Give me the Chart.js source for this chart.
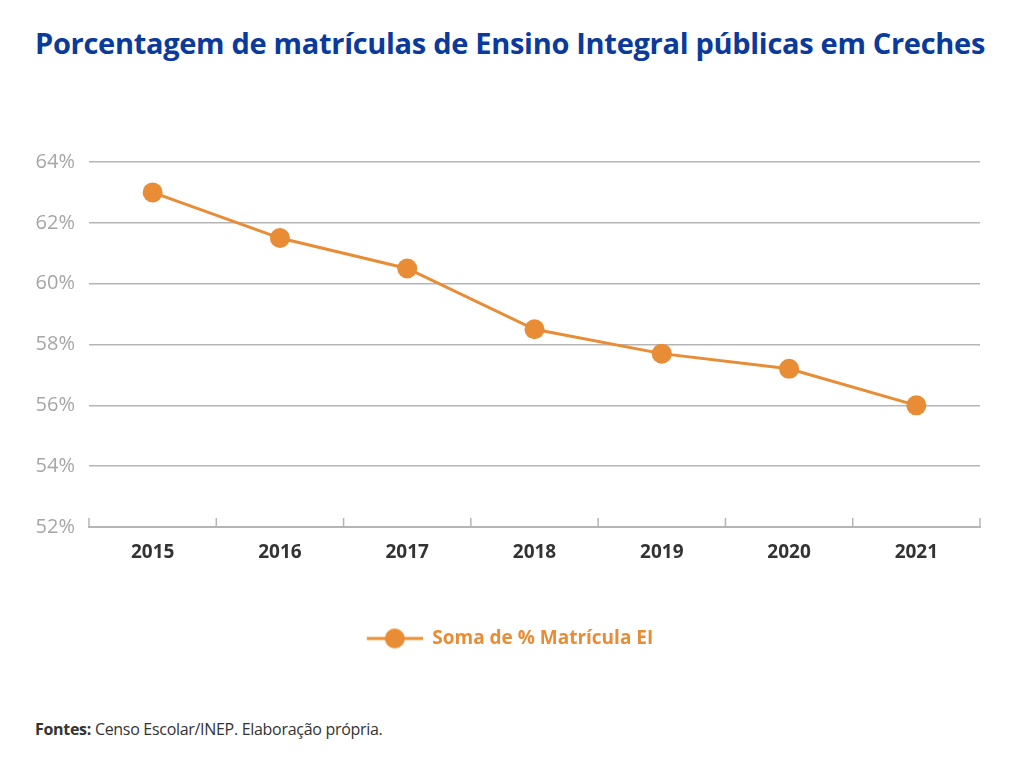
<!DOCTYPE html>
<html lang="pt">
<head>
    <meta charset="UTF-8">
    <title>Porcentagem de matrículas de Ensino Integral públicas em Creches</title>
    <script src="https://cdn.jsdelivr.net/npm/chart.js@4.4.2/dist/chart.umd.min.js"></script>
    <style>
        html, body { margin: 0; padding: 0; background: #fff; }
        body { width: 1024px; height: 770px; position: relative; overflow: hidden; font-family: 'Open Sans', sans-serif; }
        #title {
            position: absolute; left: 35px; top: 23px; margin: 0;
            font-size: 29px; font-weight: 700; color: #0a3a9c; letter-spacing: -0.3px; white-space: nowrap;
        }
        #chartBox { position: absolute; left: 0; top: 130px; width: 1024px; height: 528px; }
        #source {
            position: absolute; left: 35px; top: 718px; margin: 0;
            font-size: 16px; color: #333; letter-spacing: -0.3px;
        }
    </style>
</head>
<body>
    <h1 id="title">Porcentagem de matrículas de Ensino Integral públicas em Creches</h1>
    <div id="chartBox"><canvas id="lineChart"></canvas></div>
    <p id="source"><b>Fontes:</b> Censo Escolar/INEP. Elaboração própria.</p>

    <script>
        // --- Data ---
        const years = ['2015', '2016', '2017', '2018', '2019', '2020', '2021'];
        const matriculaEI = [63.0, 61.5, 60.5, 58.5, 57.7, 57.2, 56.0];
        const seriesLabel = 'Soma de % Matrícula EI';

        const orange = '#e88c35';
        const gridGray = '#b5b5b5';

        // legend marker: short line with a dot in the middle
        // (transparent space on the left nudges the legend item to the right)
        const marker = document.createElement('canvas');
        marker.width = 96; marker.height = 22;
        const mctx = marker.getContext('2d');
        mctx.strokeStyle = orange; mctx.lineWidth = 3;
        mctx.beginPath(); mctx.moveTo(40, 11); mctx.lineTo(96, 11); mctx.stroke();
        mctx.fillStyle = orange;
        mctx.beginPath(); mctx.arc(68, 11, 10, 0, Math.PI * 2); mctx.fill();

        // upward tick marks on the x axis, between the categories
        const upTicks = {
            id: 'upTicks',
            afterDraw(chart) {
                const x = chart.scales.x;
                const bottom = chart.chartArea.bottom;
                const ctx = chart.ctx;
                ctx.save();
                ctx.strokeStyle = gridGray; ctx.lineWidth = 1.5;
                for (let i = 0; i <= years.length; i++) {
                    const px = x.getPixelForValue(i - 0.5);
                    ctx.beginPath(); ctx.moveTo(px, bottom); ctx.lineTo(px, bottom - 9); ctx.stroke();
                }
                ctx.restore();
            }
        };

        new Chart(document.getElementById('lineChart'), {
            type: 'line',
            data: {
                labels: years,
                datasets: [{
                    label: seriesLabel,
                    data: matriculaEI,
                    borderColor: orange,
                    backgroundColor: orange,
                    borderWidth: 3,
                    pointRadius: 10,
                    pointHoverRadius: 10,
                    pointBackgroundColor: orange,
                    pointBorderWidth: 0,
                    tension: 0
                }]
            },
            options: {
                responsive: true,
                maintainAspectRatio: false,
                animation: false,
                layout: { padding: { top: 32, right: 44, left: 0, bottom: 0 } },
                scales: {
                    x: {
                        offset: true,
                        grid: { display: false },
                        border: { display: true, color: gridGray, width: 2 },
                        ticks: { color: '#333', padding: 6, font: { family: 'Open Sans', size: 19, weight: '700' } },
                        afterFit(scale) { scale.height = 50; }
                    },
                    y: {
                        min: 52, max: 64,
                        ticks: {
                            stepSize: 2, color: '#a6a6a6', padding: 14,
                            font: { family: 'Open Sans', size: 20 },
                            callback: v => v + '%'
                        },
                        grid: { color: gridGray, lineWidth: 1.5, drawTicks: false },
                        border: { display: false },
                        afterFit(scale) { scale.width = 89; }
                    }
                },
                plugins: {
                    title: { display: false },
                    tooltip: { enabled: false },
                    legend: {
                        position: 'bottom',
                        labels: {
                            usePointStyle: true,
                            pointStyleWidth: 96,
                            boxHeight: 22,
                            padding: 52,
                            color: orange,
                            font: { family: 'Open Sans', size: 19, weight: '700' },
                            generateLabels(chart) {
                                return chart.data.datasets.map((ds, i) => ({
                                    text: ds.label,
                                    fontColor: orange,
                                    pointStyle: marker,
                                    strokeStyle: orange,
                                    fillStyle: orange,
                                    lineWidth: 0,
                                    datasetIndex: i
                                }));
                            }
                        }
                    }
                }
            },
            plugins: [upTicks]
        });
    </script>
</body>
</html>
